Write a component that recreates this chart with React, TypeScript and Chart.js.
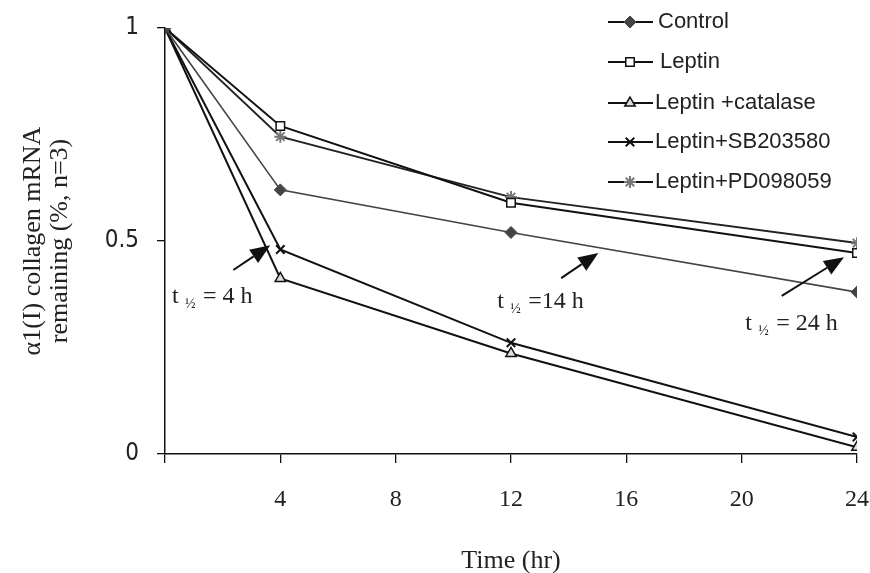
import React, { useEffect, useRef } from 'react';
import { Chart, registerables } from 'chart.js';
import { drawPoint } from 'chart.js/helpers';

Chart.register(...registerables);

const timePoints = [0, 4, 12, 24];
const seriesNames = ['Control', 'Leptin', 'Leptin +catalase', 'Leptin+SB203580', 'Leptin+PD098059'];
const controlValues = [1, 0.62, 0.52, 0.38];
const leptinValues = [1, 0.77, 0.59, 0.472];
const catalaseValues = [1, 0.412, 0.236, 0.016];
const sbValues = [1, 0.48, 0.261, 0.04];
const pdValues = [1, 0.745, 0.603, 0.495];

const xTickValues = [0, 4, 8, 12, 16, 20, 24];
const yTickValues = [0, 0.5, 1];
const yTickLabels = ['0', '0.5', '1'];

const halfLifeTexts = ['= 4 h', '=14 h', '= 24 h'];
const halfLifeX = [0.24, 11.52, 20.12];
const halfLifeY = [0.354, 0.343, 0.291];
const arrowFromX = [2.37, 13.74, 21.39];
const arrowFromY = [0.432, 0.413, 0.371];
const arrowToX = [3.65, 15.03, 23.55];
const arrowToY = [0.49, 0.472, 0.462];

const SERIF = '"Liberation Serif", "Times New Roman", serif';
const SANS = '"Liberation Sans", Arial, sans-serif';
const NARROW = '"Liberation Sans Narrow", "Arial Narrow", "DejaVu Sans Condensed", sans-serif';

const legendRowY = [22, 62, 103, 142, 182];
const legendTextX = [658, 660, 655, 655, 655];

const annotationPlugin = {
  id: 'halfLifeAnnotations',
  afterDatasetsDraw(chart: any) {
    const { ctx, scales } = chart;
    const xs = scales.x;
    const ys = scales.y;
    ctx.save();
    for (let i = 0; i < halfLifeTexts.length; i++) {
      const x1 = xs.getPixelForValue(arrowFromX[i]);
      const y1 = ys.getPixelForValue(arrowFromY[i]);
      const x2 = xs.getPixelForValue(arrowToX[i]);
      const y2 = ys.getPixelForValue(arrowToY[i]);
      const ang = Math.atan2(y2 - y1, x2 - x1);
      const headLen = 20;
      const headW = 8;
      const bx = x2 - headLen * Math.cos(ang);
      const by = y2 - headLen * Math.sin(ang);
      ctx.strokeStyle = '#111';
      ctx.fillStyle = '#111';
      ctx.lineWidth = 2;
      ctx.beginPath();
      ctx.moveTo(x1, y1);
      ctx.lineTo(bx, by);
      ctx.stroke();
      ctx.beginPath();
      ctx.moveTo(x2, y2);
      ctx.lineTo(bx + headW * Math.sin(ang), by - headW * Math.cos(ang));
      ctx.lineTo(bx - headW * Math.sin(ang), by + headW * Math.cos(ang));
      ctx.closePath();
      ctx.fill();

      const tx = xs.getPixelForValue(halfLifeX[i]);
      const ty = ys.getPixelForValue(halfLifeY[i]);
      ctx.fillStyle = '#222';
      ctx.textAlign = 'left';
      ctx.textBaseline = 'alphabetic';
      ctx.font = `24px ${SERIF}`;
      ctx.fillText('t', tx, ty);
      ctx.font = `14px ${SERIF}`;
      ctx.fillText('½', tx + 13, ty + 5);
      ctx.font = `24px ${SERIF}`;
      ctx.fillText(halfLifeTexts[i], tx + 31, ty);
    }
    ctx.restore();
  },
  afterDraw(chart: any) {
    const { ctx } = chart;
    ctx.save();
    chart.data.datasets.forEach((ds: any, i: number) => {
      const y = legendRowY[i];
      ctx.strokeStyle = '#111';
      ctx.lineWidth = 2;
      ctx.beginPath();
      ctx.moveTo(608, y);
      ctx.lineTo(653, y);
      ctx.stroke();
      ctx.fillStyle = ds.pointBackgroundColor;
      ctx.strokeStyle = ds.pointBorderColor;
      ctx.lineWidth = ds.pointBorderWidth;
      drawPoint(ctx, { pointStyle: ds.pointStyle, radius: ds.pointRadius, rotation: 0, borderWidth: ds.pointBorderWidth } as any, 630, y);
      ctx.fillStyle = '#222';
      ctx.font = `22px ${SANS}`;
      ctx.textAlign = 'left';
      ctx.textBaseline = 'middle';
      ctx.fillText(seriesNames[i], legendTextX[i], y);
    });
    ctx.restore();
  },
};

function makeData(values: number[]) {
  return timePoints.map((t, i) => ({ x: t, y: values[i] }));
}

export default function App() {
  const canvasRef = useRef<HTMLCanvasElement | null>(null);

  useEffect(() => {
    if (!canvasRef.current) return;
    const chart = new Chart(canvasRef.current, {
      type: 'line',
      data: {
        datasets: [
          {
            label: seriesNames[0],
            data: makeData(controlValues),
            borderColor: '#444',
            borderWidth: 1.6,
            pointStyle: 'rectRot',
            pointRadius: 6,
            pointBackgroundColor: '#444',
            pointBorderColor: '#444',
            pointBorderWidth: 1,
          },
          {
            label: seriesNames[1],
            data: makeData(leptinValues),
            borderColor: '#111',
            borderWidth: 2,
            pointStyle: 'rect',
            pointRadius: 6,
            pointBackgroundColor: '#fff',
            pointBorderColor: '#111',
            pointBorderWidth: 1.5,
          },
          {
            label: seriesNames[2],
            data: makeData(catalaseValues),
            borderColor: '#111',
            borderWidth: 2,
            pointStyle: 'triangle',
            pointRadius: 6,
            pointBackgroundColor: '#ddd',
            pointBorderColor: '#111',
            pointBorderWidth: 1.5,
          },
          {
            label: seriesNames[3],
            data: makeData(sbValues),
            borderColor: '#111',
            borderWidth: 2,
            pointStyle: 'crossRot',
            pointRadius: 6,
            pointBackgroundColor: '#111',
            pointBorderColor: '#111',
            pointBorderWidth: 2,
          },
          {
            label: seriesNames[4],
            data: makeData(pdValues),
            borderColor: '#222',
            borderWidth: 2,
            pointStyle: 'star',
            pointRadius: 6,
            pointBackgroundColor: '#777',
            pointBorderColor: '#777',
            pointBorderWidth: 2,
          },
        ],
      },
      options: {
        responsive: false,
        animation: false,
        devicePixelRatio: 1,
        layout: { padding: { left: 0, right: 13, top: 28, bottom: 0 } },
        plugins: { legend: { display: false }, tooltip: { enabled: false } },
        elements: { line: { tension: 0 } },
        scales: {
          x: {
            type: 'linear',
            min: 0,
            max: 24,
            afterBuildTicks: (scale: any) => {
              scale.ticks = xTickValues.map((v) => ({ value: v }));
            },
            afterFit: (scale: any) => {
              scale.height = 119;
              scale.paddingLeft = 0;
              scale.paddingRight = 0;
            },
            ticks: {
              autoSkip: false,
              maxRotation: 0,
              padding: 22,
              color: '#222',
              font: { family: SERIF, size: 24 },
              callback: (v: any) => (v === 0 ? '' : String(v)),
            },
            grid: {
              display: true,
              drawOnChartArea: false,
              drawTicks: true,
              tickLength: 9,
              color: '#111',
              lineWidth: 1.3,
            },
            border: { display: true, color: '#111', width: 1.5 },
            title: {
              display: true,
              text: 'Time (hr)',
              color: '#222',
              font: { family: SERIF, size: 26, lineHeight: 1 },
              padding: { top: 0, bottom: -1 },
            },
          },
          y: {
            type: 'linear',
            min: 0,
            max: 1,
            afterBuildTicks: (scale: any) => {
              scale.ticks = yTickValues.map((v) => ({ value: v }));
            },
            afterFit: (scale: any) => {
              scale.width = 165;
              scale.paddingTop = 0;
              scale.paddingBottom = 0;
            },
            ticks: {
              padding: 18,
              color: '#222',
              font: { family: NARROW, size: 24 },
              callback: (v: any) => {
                const idx = yTickValues.indexOf(Number(v));
                return idx >= 0 ? yTickLabels[idx] : '';
              },
            },
            grid: {
              display: true,
              drawOnChartArea: false,
              drawTicks: true,
              tickLength: 8,
              color: '#111',
              lineWidth: 1.3,
            },
            border: { display: true, color: '#111', width: 1.5 },
            title: {
              display: true,
              text: ['α1(I) collagen mRNA', 'remaining (%, n=3)'],
              color: '#222',
              font: { family: SERIF, size: 26, lineHeight: 1.04 },
              padding: { top: 19.5, bottom: 0 },
            },
          },
        },
      },
      plugins: [annotationPlugin],
    } as any);
    return () => chart.destroy();
  }, []);

  return (
    <div style={{ position: 'fixed', left: 0, top: 0, width: 870, height: 573, background: '#fff' }}>
      <canvas ref={canvasRef} width={870} height={573} />
    </div>
  );
}
